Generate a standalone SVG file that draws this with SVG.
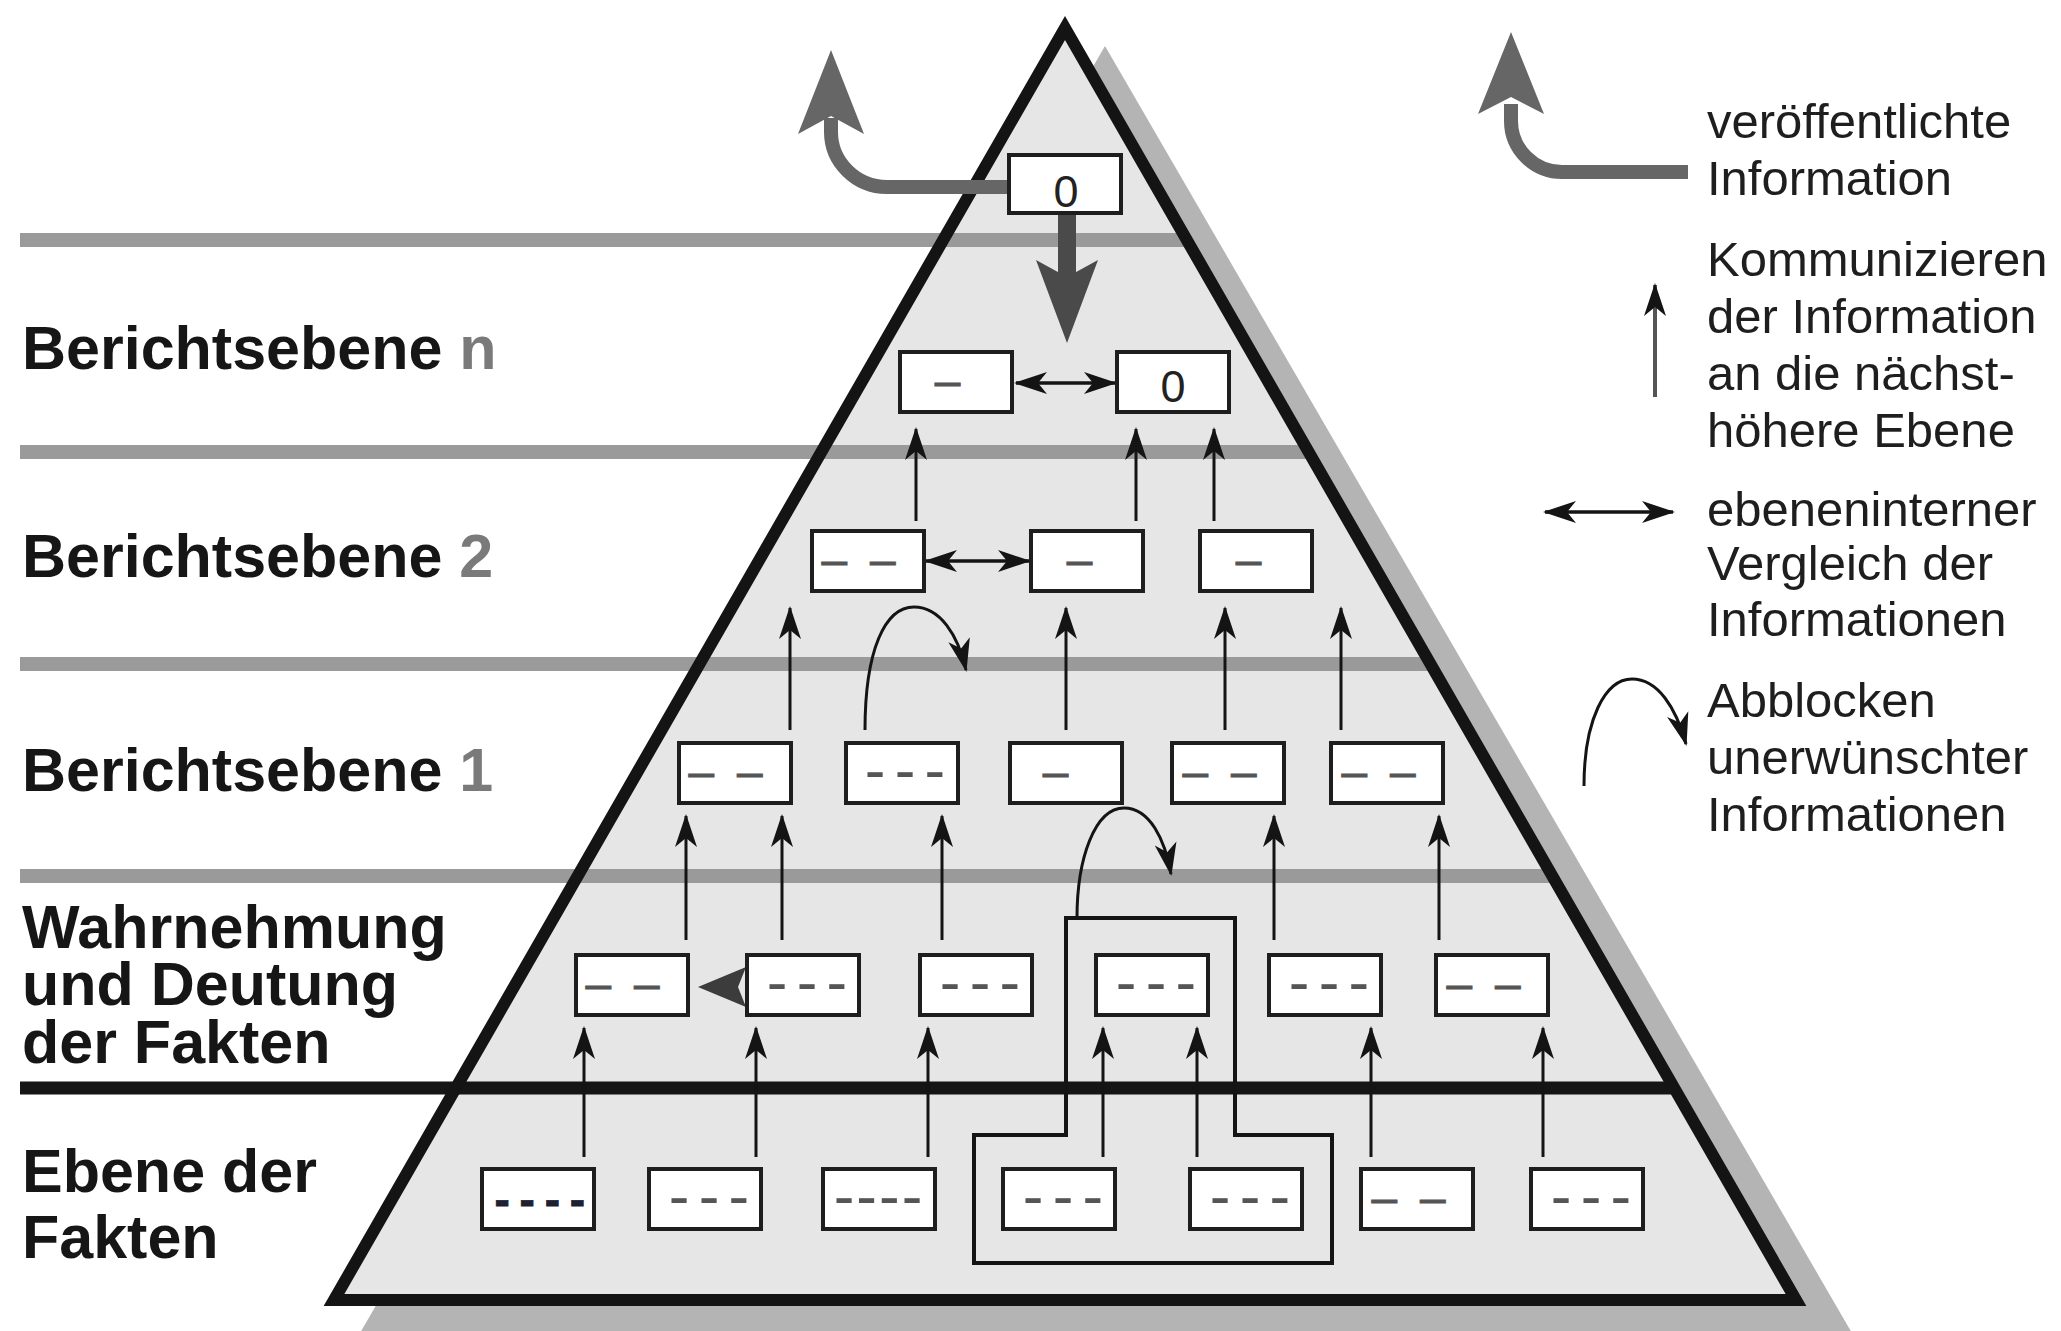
<svg xmlns="http://www.w3.org/2000/svg" width="2061" height="1331" viewBox="0 0 2061 1331">
<defs>
<style>
.box{fill:#fff;stroke:#1e1e1e;stroke-width:4}
.d{font-family:"Liberation Sans",Arial,sans-serif;font-size:46px;fill:#555;stroke:#555;stroke-width:0.8;text-anchor:middle;letter-spacing:5px}
.h{font-family:"Liberation Sans",Arial,sans-serif;font-size:62px;fill:#555;text-anchor:middle;letter-spacing:-4px}
.z{font-family:"Liberation Sans",Arial,sans-serif;font-size:45px;fill:#222;text-anchor:middle}
.lab{font-family:"Liberation Sans",Arial,sans-serif;font-size:61px;font-weight:bold;fill:#161616}
.leg{font-family:"Liberation Sans",Arial,sans-serif;font-size:49px;fill:#1e1e1e}
.num{fill:#7a7a7a}
.ar{fill:none;stroke:#141414;stroke-width:3;marker-end:url(#ah)}
.dbl{fill:none;stroke:#141414;stroke-width:3.5;marker-end:url(#ah);marker-start:url(#ah)}
.gl{stroke:#9a9a9a;stroke-width:14}
</style>
<marker id="ah" markerUnits="userSpaceOnUse" viewBox="-34 -13 38 26" refX="0" refY="0" markerWidth="38" markerHeight="26" orient="auto-start-reverse">
<path d="M2,0 L-31,-11 L-22,0 L-31,11 Z" fill="#141414"/>
</marker>
</defs>
<rect width="2061" height="1331" fill="#fff"/>

<g id="pyramid">
<polygon points="1105,46 356,1340 1856,1340" fill="#b4b4b4"/>
<polygon points="1065,28 334,1300 1796,1300" fill="#e6e6e6"/>
<line class="gl" x1="20" y1="240" x2="1187" y2="240"/>
<line class="gl" x1="20" y1="452" x2="1309" y2="452"/>
<line class="gl" x1="20" y1="664" x2="1431" y2="664"/>
<line class="gl" x1="20" y1="876" x2="1553" y2="876"/>
<line x1="20" y1="1088" x2="1675" y2="1088" stroke="#151515" stroke-width="13"/>
<polygon points="1065,28 334,1300 1796,1300" fill="none" stroke="#141414" stroke-width="12" stroke-linejoin="miter"/>
<path d="M1066,918 H1235 V1135 H1332 V1263 H974 V1135 H1066 Z" fill="none" stroke="#141414" stroke-width="4"/>
</g>

<g id="connectors">
<!-- published information arrow -->
<path d="M1010,187 H887 C856,187 831,162 831,132 V118" fill="none" stroke="#666" stroke-width="14"/>
<polygon points="831,50 864,134 831,116 798,134" fill="#666"/>
<!-- big downward arrow -->
<rect x="1058" y="213" width="18" height="68" fill="#4a4a4a"/>
<polygon points="1067,343 1098,260 1067,277 1036,260" fill="#4a4a4a"/>
<!-- F -> W -->
<line class="ar" x1="584" y1="1157" x2="584" y2="1028"/>
<line class="ar" x1="756" y1="1157" x2="756" y2="1028"/>
<line class="ar" x1="928" y1="1157" x2="928" y2="1028"/>
<line class="ar" x1="1103" y1="1157" x2="1103" y2="1028"/>
<line class="ar" x1="1197" y1="1157" x2="1197" y2="1028"/>
<line class="ar" x1="1371" y1="1157" x2="1371" y2="1028"/>
<line class="ar" x1="1543" y1="1157" x2="1543" y2="1028"/>
<!-- W -> 1 -->
<line class="ar" x1="686" y1="940" x2="686" y2="816"/>
<line class="ar" x1="782" y1="940" x2="782" y2="816"/>
<line class="ar" x1="942" y1="940" x2="942" y2="816"/>
<line class="ar" x1="1274" y1="940" x2="1274" y2="816"/>
<line class="ar" x1="1439" y1="940" x2="1439" y2="816"/>
<!-- 1 -> 2 -->
<line class="ar" x1="790" y1="730" x2="790" y2="608"/>
<line class="ar" x1="1066" y1="730" x2="1066" y2="608"/>
<line class="ar" x1="1225" y1="730" x2="1225" y2="608"/>
<line class="ar" x1="1341" y1="730" x2="1341" y2="608"/>
<!-- 2 -> n -->
<line class="ar" x1="916" y1="521" x2="916" y2="429"/>
<line class="ar" x1="1136" y1="521" x2="1136" y2="429"/>
<line class="ar" x1="1214" y1="521" x2="1214" y2="429"/>
<!-- level-internal comparisons -->
<line class="dbl" x1="1016" y1="383" x2="1115" y2="383"/>
<line class="dbl" x1="926" y1="561" x2="1029" y2="561"/>
<polygon points="698,987 746,967 738,987 746,1007" fill="#3c3c3c"/>
<!-- blocking arrows -->
<path class="ar" d="M865,730 C865,650 885,607 914,607 C940,607 958,635 966,670"/>
<path class="ar" d="M1077,918 C1077,858 1095,808 1124,808 C1150,808 1165,840 1171,874"/>
</g>

<g id="boxes">
<g id="n-top"><rect class="box" x="1009" y="155" width="112" height="58"/><text class="z" x="1066" y="207">0</text></g>
<g id="n-n1"><rect class="box" x="900" y="352" width="112" height="60"/><text class="d" x="950" y="396">–</text></g>
<g id="n-n2"><rect class="box" x="1117" y="352" width="112" height="60"/><text class="z" x="1173" y="402">0</text></g>
<g id="n-21"><rect class="box" x="812" y="531" width="112" height="60"/><text class="d" x="861" y="575">– –</text></g>
<g id="n-22"><rect class="box" x="1031" y="531" width="112" height="60"/><text class="d" x="1082" y="575">–</text></g>
<g id="n-23"><rect class="box" x="1200" y="531" width="112" height="60"/><text class="d" x="1251" y="575">–</text></g>
<g id="n-11"><rect class="box" x="679" y="743" width="112" height="60"/><text class="d" x="728" y="787">– –</text></g>
<g id="n-12"><rect class="box" x="846" y="743" width="112" height="60"/><text class="h" x="903" y="791">- - -</text></g>
<g id="n-13"><rect class="box" x="1010" y="743" width="112" height="60"/><text class="d" x="1058" y="787">–</text></g>
<g id="n-14"><rect class="box" x="1172" y="743" width="112" height="60"/><text class="d" x="1222" y="787">– –</text></g>
<g id="n-15"><rect class="box" x="1331" y="743" width="112" height="60"/><text class="d" x="1381" y="787">– –</text></g>
<g id="n-w1"><rect class="box" x="576" y="955" width="112" height="60"/><text class="d" x="625" y="999">– –</text></g>
<g id="n-w2"><rect class="box" x="747" y="955" width="112" height="60"/><text class="h" x="805" y="1003">- - -</text></g>
<g id="n-w3"><rect class="box" x="920" y="955" width="112" height="60"/><text class="h" x="978" y="1003">- - -</text></g>
<g id="n-w4"><rect class="box" x="1096" y="955" width="112" height="60"/><text class="h" x="1154" y="1003">- - -</text></g>
<g id="n-w5"><rect class="box" x="1269" y="955" width="112" height="60"/><text class="h" x="1327" y="1003">- - -</text></g>
<g id="n-w6"><rect class="box" x="1436" y="955" width="112" height="60"/><text class="d" x="1486" y="999">– –</text></g>
<g id="n-f1"><rect class="box" x="482" y="1169" width="112" height="60"/><text class="d" x="539" y="1215" style="fill:#1c2030;stroke:#1c2030;font-weight:bold;letter-spacing:-1.5px">- - - -</text></g>
<g id="n-f2"><rect class="box" x="649" y="1169" width="112" height="60"/><text class="h" x="707" y="1217">- - -</text></g>
<g id="n-f3"><rect class="box" x="823" y="1169" width="112" height="60"/><text class="h" x="879" y="1217" style="letter-spacing:2px">----</text></g>
<g id="n-f4"><rect class="box" x="1003" y="1169" width="112" height="60"/><text class="h" x="1061" y="1217">- - -</text></g>
<g id="n-f5"><rect class="box" x="1190" y="1169" width="112" height="60"/><text class="h" x="1248" y="1217">- - -</text></g>
<g id="n-f6"><rect class="box" x="1361" y="1169" width="112" height="60"/><text class="d" x="1411" y="1213">– –</text></g>
<g id="n-f7"><rect class="box" x="1531" y="1169" width="112" height="60"/><text class="h" x="1589" y="1217">- - -</text></g>
</g>

<g id="labels">
<text class="lab" x="22" y="369">Berichtsebene <tspan class="num">n</tspan></text>
<text class="lab" x="22" y="577">Berichtsebene <tspan class="num">2</tspan></text>
<text class="lab" x="22" y="791">Berichtsebene <tspan class="num">1</tspan></text>
<text class="lab" x="22" y="948">Wahrnehmung</text>
<text class="lab" x="22" y="1005">und Deutung</text>
<text class="lab" x="22" y="1063">der Fakten</text>
<text class="lab" x="22" y="1192">Ebene der</text>
<text class="lab" x="22" y="1258">Fakten</text>
</g>

<g id="legend">
<path d="M1688,172 H1562 C1534,172 1511,149 1511,121 V104" fill="none" stroke="#666" stroke-width="14"/>
<polygon points="1511,32 1544,114 1511,97 1478,114" fill="#666"/>
<text class="leg" x="1707" y="138">veröffentlichte</text>
<text class="leg" x="1707" y="195">Information</text>
<line x1="1655" y1="397" x2="1655" y2="285" stroke="#555" stroke-width="4" marker-end="url(#ah)"/>
<text class="leg" x="1707" y="276">Kommunizieren</text>
<text class="leg" x="1707" y="333">der Information</text>
<text class="leg" x="1707" y="390">an die nächst-</text>
<text class="leg" x="1707" y="447">höhere Ebene</text>
<line class="dbl" x1="1545" y1="512" x2="1673" y2="512"/>
<text class="leg" x="1707" y="526">ebeneninterner</text>
<text class="leg" x="1707" y="580">Vergleich der</text>
<text class="leg" x="1707" y="636">Informationen</text>
<path class="ar" d="M1584,786 C1584,720 1605,679 1632,679 C1658,679 1676,708 1686,744"/>
<text class="leg" x="1707" y="717">Abblocken</text>
<text class="leg" x="1707" y="774">unerwünschter</text>
<text class="leg" x="1707" y="831">Informationen</text>
</g>
</svg>
